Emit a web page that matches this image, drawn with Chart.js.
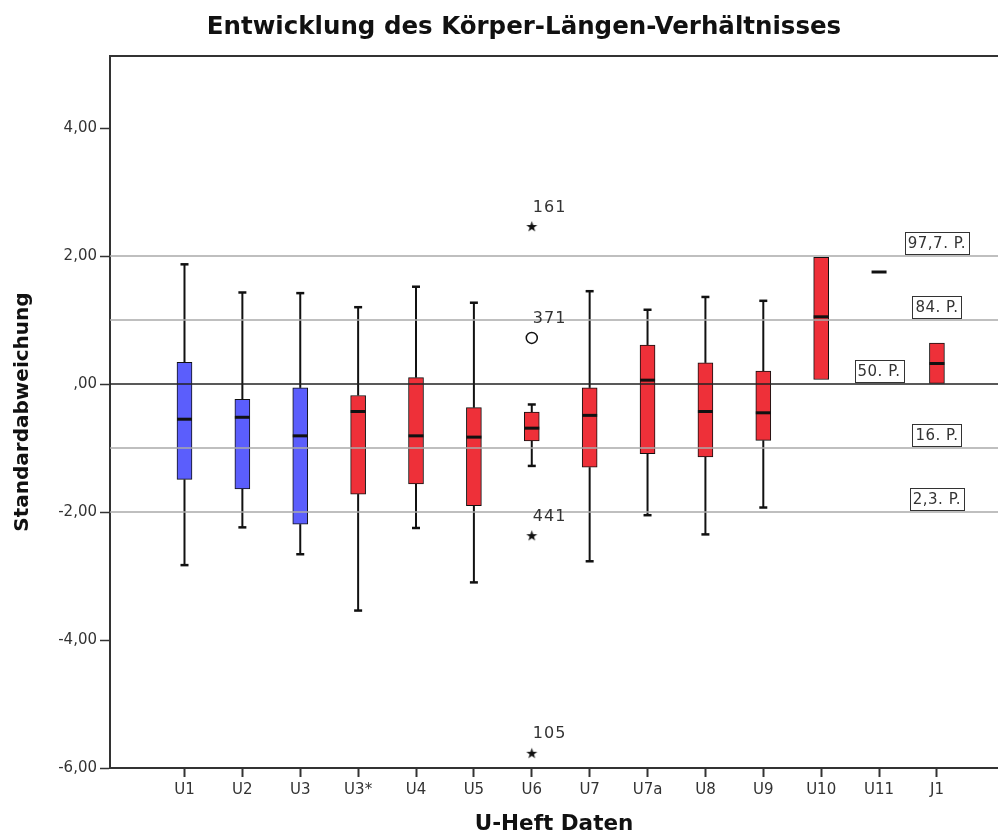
<!DOCTYPE html>
<html>
<head>
<meta charset="utf-8">
<script src="https://cdn.jsdelivr.net/npm/chart.js@4.4.1/dist/chart.umd.min.js"></script>
<style>
  html, body { margin: 0; padding: 0; background: #fff; }
  canvas { display: block; }
</style>
</head>
<body>
<canvas id="chart" width="998" height="837"></canvas>
<script>
// ---- data ----
const categories  = ['U1', 'U2', 'U3', 'U3*', 'U4', 'U5', 'U6', 'U7', 'U7a', 'U8', 'U9', 'U10', 'U11', 'J1'];
const whiskerLow  = [-2.83, -2.24, -2.66, -3.54, -2.25, -3.10, -1.28, -2.77, -2.05, -2.35, -1.93, 0.07, 1.75, 0.01];
const quartile1   = [-1.49, -1.64, -2.19, -1.72, -1.56, -1.90, -0.89, -1.30, -1.09, -1.14, -0.88, 0.07, 1.75, 0.01];
const median      = [-0.55, -0.52, -0.81, -0.43, -0.81, -0.83, -0.69, -0.49, 0.06, -0.43, -0.45, 1.05, 1.75, 0.32];
const quartile3   = [0.34, -0.24, -0.06, -0.18, 0.10, -0.37, -0.44, -0.06, 0.61, 0.33, 0.20, 1.98, 1.75, 0.64];
const whiskerHigh = [1.87, 1.43, 1.42, 1.20, 1.52, 1.27, -0.32, 1.45, 1.16, 1.36, 1.30, 1.98, 1.75, 0.64];

const outlierCategory = ['U6', 'U6', 'U6', 'U6'];
const outlierValue    = [2.46, 0.72, -2.37, -5.77];
const outlierCase     = ['161', '371', '441', '105'];
const outlierKind     = ['extreme', 'outlier', 'extreme', 'extreme'];

const referenceValue   = [2, 1, 0, -1, -2];
const referenceLabel   = ['97,7. P.', '84. P.', '50. P.', '16. P.', '2,3. P.'];
const referenceLabelAt = ['J1', 'J1', 'U11', 'J1', 'J1'];

const yTicks = [-6, -4, -2, 0, 2, 4];

// ---- styling ----
const FONT = '"DejaVu Sans", sans-serif';
const BLUE = '#5b5efc';
const RED = '#ee3039';
const INK = '#111';
const AXIS = '#333';

function makeStar() {
    const c = document.createElement('canvas');
    c.width = 13; c.height = 13;
    const g = c.getContext('2d');
    g.fillStyle = INK;
    g.beginPath();
    for (let k = 0; k < 10; k++) {
        const r = k % 2 ? 2.3 : 5.8;
        const a = -Math.PI / 2 + k * Math.PI / 5;
        g.lineTo(6.5 + r * Math.cos(a), 6.8 + r * Math.sin(a));
    }
    g.closePath();
    g.fill();
    return c;
}
const star = makeStar();

const boxData = categories.map((c, i) => ({
    x: i + 1,
    y: quartile1[i] === quartile3[i] ? null : [quartile1[i], quartile3[i]]
}));
const boxColors = categories.map((c, i) => (i < 3 ? BLUE : RED));

const outlierData = outlierValue.map((v, i) => ({ x: categories.indexOf(outlierCategory[i]) + 1, y: v }));
const outlierStyles = outlierKind.map(k => (k === 'extreme' ? star : 'circle'));

// ------------------ whiskers, medians, reference lines ------------------
const boxExtras = {
    id: 'boxExtras',
    beforeDatasetsDraw(chart) {
        const { ctx, scales: { x, y } } = chart;
        ctx.save();
        ctx.strokeStyle = INK;
        categories.forEach((c, i) => {
            const px = x.getPixelForValue(i + 1);
            const segs = [];
            if (whiskerLow[i] < quartile1[i]) segs.push([quartile1[i], whiskerLow[i]]);
            if (whiskerHigh[i] > quartile3[i]) segs.push([quartile3[i], whiskerHigh[i]]);
            segs.forEach(([from, to]) => {
                const y0 = y.getPixelForValue(from);
                const y1 = y.getPixelForValue(to);
                ctx.lineWidth = 2;
                ctx.beginPath(); ctx.moveTo(px, y0); ctx.lineTo(px, y1); ctx.stroke();
                ctx.lineWidth = 2.5;
                ctx.beginPath(); ctx.moveTo(px - 4, y1); ctx.lineTo(px + 4, y1); ctx.stroke();
            });
        });
        ctx.restore();
    },
    afterDatasetsDraw(chart) {
        const { ctx, chartArea: area, scales: { x, y } } = chart;
        ctx.save();

        // percentile lines
        referenceValue.forEach(v => {
            const py = y.getPixelForValue(v);
            ctx.strokeStyle = v === 0 ? '#222' : '#aaaaaa';
            ctx.lineWidth = 1.5;
            ctx.beginPath(); ctx.moveTo(area.left, py); ctx.lineTo(area.right, py); ctx.stroke();
        });

        // medians
        ctx.strokeStyle = INK;
        ctx.lineWidth = 3;
        median.forEach((m, i) => {
            const px = x.getPixelForValue(i + 1);
            const py = y.getPixelForValue(m);
            ctx.beginPath(); ctx.moveTo(px - 7.5, py); ctx.lineTo(px + 7.5, py); ctx.stroke();
        });

        // case numbers next to outliers
        ctx.fillStyle = AXIS;
        ctx.font = '16px ' + FONT;
        ctx.letterSpacing = '1px';
        ctx.textAlign = 'left';
        ctx.textBaseline = 'middle';
        outlierValue.forEach((v, i) => {
            const px = x.getPixelForValue(categories.indexOf(outlierCategory[i]) + 1);
            const py = y.getPixelForValue(v);
            ctx.fillText(outlierCase[i], px + 1, py - 19);
        });

        // percentile labels
        ctx.font = '15px ' + FONT;
        ctx.letterSpacing = '0.5px';
        ctx.textAlign = 'center';
        referenceLabel.forEach((t, i) => {
            const cx = x.getPixelForValue(categories.indexOf(referenceLabelAt[i]) + 1);
            const py = y.getPixelForValue(referenceValue[i]);
            const w = ctx.measureText(t).width + 6;
            const h = 22;
            const top = py - 2 - h;
            ctx.fillStyle = '#fff';
            ctx.fillRect(cx - w / 2, top, w, h);
            ctx.strokeStyle = AXIS;
            ctx.lineWidth = 1;
            ctx.strokeRect(Math.round(cx - w / 2) + 0.5, Math.round(top) + 0.5, Math.round(w), h);
            ctx.fillStyle = AXIS;
            ctx.fillText(t, cx, top + h / 2 + 1);
        });
        ctx.restore();
    },
    afterDraw(chart) {
        const { ctx, chartArea: area } = chart;
        ctx.save();
        ctx.strokeStyle = AXIS;
        ctx.lineWidth = 2;
        ctx.beginPath(); ctx.moveTo(area.left - 1, area.top); ctx.lineTo(area.right, area.top); ctx.stroke();

        ctx.fillStyle = INK;
        ctx.font = 'bold 24.5px ' + FONT;
        ctx.textAlign = 'center';
        ctx.textBaseline = 'middle';
        ctx.fillText('Entwicklung des Körper-Längen-Verhältnisses', 524, 28);
        ctx.restore();
    }
};

new Chart(document.getElementById('chart'), {
    type: 'bar',
    data: {
        datasets: [
            {
                type: 'bar',
                data: boxData,
                backgroundColor: boxColors,
                borderColor: INK,
                borderWidth: 1,
                borderSkipped: false,
                barThickness: 15,
                order: 2
            },
            {
                type: 'scatter',
                data: outlierData,
                pointStyle: outlierStyles,
                pointRadius: 5.5,
                pointBackgroundColor: '#fff',
                pointBorderColor: INK,
                pointBorderWidth: 1.5,
                order: 1
            }
        ]
    },
    options: {
        responsive: false,
        animation: false,
        events: [],
        layout: { autoPadding: false, padding: { top: 56, left: 0, right: 0, bottom: 0 } },
        plugins: {
            legend: { display: false },
            tooltip: { enabled: false },
            title: { display: false }
        },
        scales: {
            x: {
                type: 'linear',
                min: -0.287,
                max: 15.055,
                bounds: 'data',
                offset: false,
                afterBuildTicks: s => { s.ticks = categories.map((c, i) => ({ value: i + 1 })); },
                afterFit: s => { s.height = 69; s.paddingLeft = 0; s.paddingRight = 0; },
                grid: { offset: false, drawOnChartArea: false, drawTicks: true, tickLength: 9, tickColor: AXIS, tickWidth: 2 },
                border: { display: true, color: AXIS, width: 2 },
                ticks: {
                    autoSkip: false, maxRotation: 0, padding: 4, color: AXIS,
                    font: { family: FONT, size: 15 },
                    callback: v => categories[v - 1]
                },
                title: {
                    display: true, text: 'U-Heft Daten', color: INK,
                    font: { family: FONT, size: 21.5, weight: 'bold' },
                    padding: { top: 0, bottom: 0 }
                }
            },
            y: {
                min: -6,
                max: 5.125,
                bounds: 'data',
                afterBuildTicks: s => { s.ticks = yTicks.map(v => ({ value: v })); },
                afterFit: s => { s.width = 110; s.paddingTop = 0; s.paddingBottom = 0; },
                grid: { drawOnChartArea: false, drawTicks: true, tickLength: 10, tickColor: AXIS, tickWidth: 1.5 },
                border: { display: true, color: AXIS, width: 2 },
                ticks: {
                    padding: 3, color: AXIS,
                    font: { family: FONT, size: 15 },
                    callback: v => (v === 0 ? ',00' : v.toFixed(2).replace('.', ','))
                },
                title: {
                    display: true, text: 'Standardabweichung', color: INK,
                    font: { family: FONT, size: 20, weight: 'bold' },
                    padding: { top: 11, bottom: 0 }
                }
            }
        }
    },
    plugins: [boxExtras]
});
</script>
</body>
</html>
